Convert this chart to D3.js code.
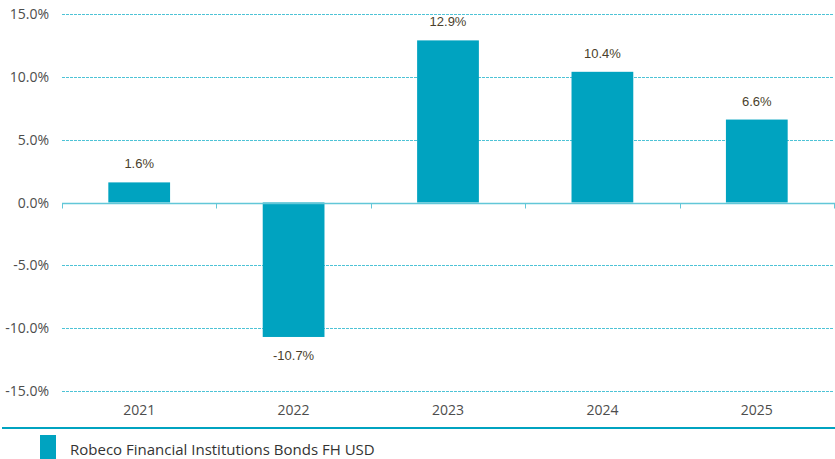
<!DOCTYPE html>
<html><head><meta charset="utf-8">
<script src="https://cdn.jsdelivr.net/npm/d3@7"></script>
<style>body{margin:0;background:#fff}svg{display:block}</style>
</head><body>
<script>
const categories = ["2021","2022","2023","2024","2025"];
const values = [1.6, -10.7, 12.9, 10.4, 6.6];
const yTicks = [15, 10, 5, 0, -5, -10, -15];
const seriesName = "Robeco Financial Institutions Bonds FH USD";

(function(){
const W = 835, H = 459;
const mLeft = 62, mRight = 834, mTop = 14, mBottom = 391;
const svg = d3.select("body").append("svg").attr("width", W).attr("height", H);

const x = d3.scaleBand().domain(categories).range([mLeft, mRight]).paddingInner(0.6).paddingOuter(0.3);
const y = d3.scaleLinear().domain([-15, 15]).range([mBottom, mTop]);
const axisFont = "'Open Sans', sans-serif";
const barColor = "#00a3c0";

// gridlines
svg.append("g").selectAll("line").data(yTicks.filter(d => d !== 0)).join("line")
  .attr("x1", mLeft).attr("x2", mRight)
  .attr("y1", d => Math.round(y(d)) + 0.5).attr("y2", d => Math.round(y(d)) + 0.5)
  .attr("stroke", "#4ec3d6").attr("stroke-width", 1).attr("stroke-dasharray", "3,1");

// y labels
svg.append("g").selectAll("text").data(yTicks).join("text")
  .attr("x", 49).attr("y", d => y(d) + 5)
  .attr("text-anchor", "end").attr("font-family", axisFont).attr("font-size", 14)
  .attr("fill", "#4d4d4d").text(d => d.toFixed(1) + "%");

// bars
svg.append("g").selectAll("rect").data(values).join("rect")
  .attr("x", (d, i) => x(categories[i]))
  .attr("width", x.bandwidth())
  .attr("y", d => y(Math.max(0, d)))
  .attr("height", d => Math.abs(y(d) - y(0)))
  .attr("fill", barColor);

// zero line and category ticks
const y0 = Math.round(y(0)) + 0.5;
svg.append("line").attr("x1", mLeft).attr("x2", mRight + 1).attr("y1", y0).attr("y2", y0)
  .attr("stroke", "#62c7d8").attr("stroke-width", 1.5);
const bounds = d3.range(categories.length + 1).map(i => mLeft + i * (mRight - mLeft) / categories.length);
svg.append("g").selectAll("line").data(bounds).join("line")
  .attr("x1", d => Math.round(d) + 0.5).attr("x2", d => Math.round(d) + 0.5)
  .attr("y1", y0).attr("y2", y0 + 5)
  .attr("stroke", "#62c7d8").attr("stroke-width", 1);

// x labels
svg.append("g").selectAll("text").data(categories).join("text")
  .attr("x", d => x(d) + x.bandwidth() / 2).attr("y", 415)
  .attr("text-anchor", "middle").attr("font-family", axisFont).attr("font-size", 14)
  .attr("fill", "#4d4d4d").text(d => d);

// data labels
svg.append("g").selectAll("text").data(values).join("text")
  .attr("x", (d, i) => x(categories[i]) + x.bandwidth() / 2)
  .attr("y", d => d >= 0 ? y(d) - 14 : y(d) + 23)
  .attr("text-anchor", "middle").attr("font-family", "'Liberation Sans', Arial, sans-serif")
  .attr("font-size", 13).attr("fill", "#4a3f2c")
  .text(d => d.toFixed(1) + "%");

// separator
svg.append("line").attr("x1", 2).attr("x2", W).attr("y1", 428).attr("y2", 428)
  .attr("stroke", barColor).attr("stroke-width", 2);

// legend
svg.append("rect").attr("x", 40).attr("y", 435).attr("width", 16).attr("height", 24).attr("fill", barColor);
svg.append("text").attr("x", 70).attr("y", 455).attr("font-family", axisFont).attr("font-size", 15)
  .attr("fill", "#333").text(seriesName);
})();
</script>
</body></html>
